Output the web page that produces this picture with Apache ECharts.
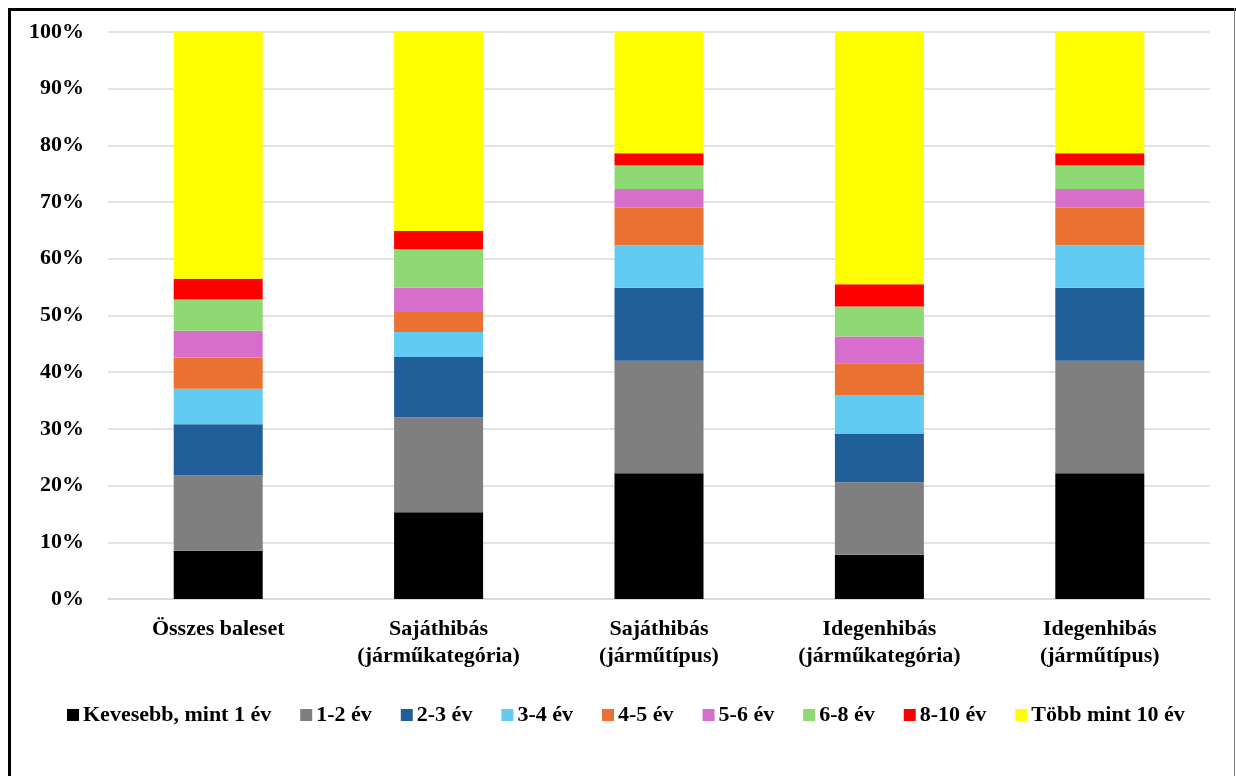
<!DOCTYPE html>
<html>
<head>
<meta charset="utf-8">
<script src="https://cdn.jsdelivr.net/npm/echarts@6/dist/echarts.min.js"></script>
<style>
  html, body { margin: 0; padding: 0; background: #fff; }
  #chart { width: 1236px; height: 776px; }
</style>
</head>
<body>
<div id="chart"></div>
<script>
// kategóriák
const categories = [
  'Összes baleset',
  'Sajáthibás\n(járműkategória)',
  'Sajáthibás\n(járműtípus)',
  'Idegenhibás\n(járműkategória)',
  'Idegenhibás\n(járműtípus)'
]

// sorozatok (%), alulról felfelé
const seriesNames = [
  'Kevesebb, mint 1 év', '1-2 év', '2-3 év', '3-4 év', '4-5 év',
  '5-6 év', '6-8 év', '8-10 év', 'Több mint 10 év'
]
const lessThan1 = [8.5, 15.3, 22.2, 7.8, 22.2]
const y1to2 = [13.3, 16.7, 19.8, 12.8, 19.8]
const y2to3 = [9.0, 10.7, 12.9, 8.6, 12.9]
const y3to4 = [6.3, 4.4, 7.5, 6.7, 7.5]
const y4to5 = [5.5, 3.5, 6.6, 5.7, 6.6]
const y5to6 = [4.7, 4.3, 3.3, 4.7, 3.3]
const y6to8 = [5.5, 6.8, 4.2, 5.3, 4.2]
const y8to10 = [3.7, 3.2, 2.1, 3.9, 2.1]
const over10 = [43.5, 35.1, 21.4, 44.5, 21.4]

const seriesData = [lessThan1, y1to2, y2to3, y3to4, y4to5, y5to6, y6to8, y8to10, over10]
const colors = ['#000000', '#7f7f7f', '#215f9a', '#61cbf3', '#e97132', '#d86ecc', '#8ed973', '#ff0000', '#ffff00']

const yTicks = [0, 10, 20, 30, 40, 50, 60, 70, 80, 90, 100]

const font = '"Liberation Serif", "Times New Roman", serif'

const chart = echarts.init(document.getElementById('chart'))

const option = {
  backgroundColor: '#fff',
  animation: false,
  textStyle: { fontFamily: font, fontWeight: 'bold', color: '#000' },
  graphic: [
    { type: 'line', shape: { x1: 8, y1: 9.5, x2: 1236, y2: 9.5 }, style: { stroke: '#000', lineWidth: 3 } },
    { type: 'line', shape: { x1: 9.5, y1: 8, x2: 9.5, y2: 776 }, style: { stroke: '#000', lineWidth: 3 } },
    { type: 'line', shape: { x1: 1234.5, y1: 8, x2: 1234.5, y2: 776 }, style: { stroke: '#808080', lineWidth: 1 } }
  ],
  legend: {
    data: seriesNames,
    left: 62,
    top: 699,
    itemWidth: 12,
    itemHeight: 12,
    itemGap: 29,
    icon: 'rect',
    textStyle: { fontFamily: font, fontWeight: 'bold', fontSize: 22, color: '#000', padding: [0, 0, 0, -1] }
  },
  grid: { left: 108, right: 26, top: 32, bottom: 177, containLabel: false },
  xAxis: {
    type: 'category',
    data: categories,
    axisLine: { show: true, lineStyle: { color: '#d9d9d9', width: 1.5 } },
    axisTick: { show: false },
    axisLabel: {
      fontFamily: font, fontWeight: 'bold', fontSize: 22, color: '#000',
      lineHeight: 27, margin: 17, interval: 0
    }
  },
  yAxis: {
    type: 'value',
    min: yTicks[0],
    max: yTicks[yTicks.length - 1],
    interval: 10,
    axisLine: { show: false },
    axisTick: { show: false },
    splitLine: { lineStyle: { color: '#d9d9d9', width: 1.5 } },
    axisLabel: {
      fontFamily: font, fontWeight: 'bold', fontSize: 22, color: '#000',
      margin: 24,
      formatter: v => v + '%'
    }
  },
  series: seriesNames.map((name, i) => ({
    name,
    type: 'bar',
    stack: 'total',
    barWidth: 89,
    itemStyle: { color: colors[i] },
    data: seriesData[i]
  }))
}

chart.setOption(option)
</script>
</body>
</html>
